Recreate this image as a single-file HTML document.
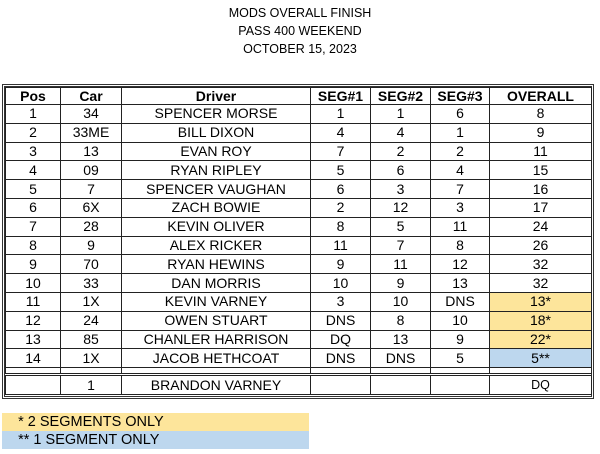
<!DOCTYPE html>
<html><head><style>
body{margin:0;width:600px;height:454px;background:#fff;font-family:"Liberation Sans",Arial,sans-serif;position:relative;overflow:hidden}
.t{position:absolute;left:0;width:600px;text-align:center;font-size:12.5px;color:#000}
.wrap{position:absolute;left:2px;top:84px;width:586px;height:309px;border:3px double #333}
table{border-collapse:collapse;table-layout:fixed;width:586px;font-size:14px}
td{border:1px solid #222;text-align:center;padding:0;height:17.8px;line-height:17px;overflow:hidden;white-space:nowrap}
th{border:1px solid #222;font-size:14px;height:16px;line-height:16px;padding:0}
.y{background:#fde59b}.b{background:#bdd7ee}
tr.sp td{height:5px;line-height:5px;border-bottom:3px double #222}
.lg{position:absolute;left:2px;width:307px;height:18px;font-size:14.5px;line-height:18px}
</style></head><body>
<div class="t" style="top:6px">MODS OVERALL FINISH</div>
<div class="t" style="top:24px">PASS 400 WEEKEND</div>
<div class="t" style="top:42px">OCTOBER 15, 2023</div>
<div class="wrap"><table>
<colgroup><col style="width:55px"><col style="width:61px"><col style="width:189px"><col style="width:60px"><col style="width:60px"><col style="width:59px"><col style="width:102px"></colgroup>
<tr><th>Pos</th><th>Car</th><th>Driver</th><th>SEG#1</th><th>SEG#2</th><th>SEG#3</th><th>OVERALL</th></tr>
<tr><td>1</td><td>34</td><td>SPENCER MORSE</td><td>1</td><td>1</td><td>6</td><td>8</td></tr>
<tr><td>2</td><td>33ME</td><td>BILL DIXON</td><td>4</td><td>4</td><td>1</td><td>9</td></tr>
<tr><td>3</td><td>13</td><td>EVAN ROY</td><td>7</td><td>2</td><td>2</td><td>11</td></tr>
<tr><td>4</td><td>09</td><td>RYAN RIPLEY</td><td>5</td><td>6</td><td>4</td><td>15</td></tr>
<tr><td>5</td><td>7</td><td>SPENCER VAUGHAN</td><td>6</td><td>3</td><td>7</td><td>16</td></tr>
<tr><td>6</td><td>6X</td><td>ZACH BOWIE</td><td>2</td><td>12</td><td>3</td><td>17</td></tr>
<tr><td>7</td><td>28</td><td>KEVIN OLIVER</td><td>8</td><td>5</td><td>11</td><td>24</td></tr>
<tr><td>8</td><td>9</td><td>ALEX RICKER</td><td>11</td><td>7</td><td>8</td><td>26</td></tr>
<tr><td>9</td><td>70</td><td>RYAN HEWINS</td><td>9</td><td>11</td><td>12</td><td>32</td></tr>
<tr><td>10</td><td>33</td><td>DAN MORRIS</td><td>10</td><td>9</td><td>13</td><td>32</td></tr>
<tr><td>11</td><td>1X</td><td>KEVIN VARNEY</td><td>3</td><td>10</td><td>DNS</td><td class="y">13*</td></tr>
<tr><td>12</td><td>24</td><td>OWEN STUART</td><td>DNS</td><td>8</td><td>10</td><td class="y">18*</td></tr>
<tr><td>13</td><td>85</td><td>CHANLER HARRISON</td><td>DQ</td><td>13</td><td>9</td><td class="y">22*</td></tr>
<tr><td>14</td><td>1X</td><td>JACOB HETHCOAT</td><td>DNS</td><td>DNS</td><td>5</td><td class="b">5**</td></tr>
<tr class="sp"><td></td><td></td><td></td><td></td><td></td><td></td><td></td></tr>
<tr><td style="height:18px"></td><td>1</td><td>BRANDON VARNEY</td><td></td><td></td><td></td><td style="font-size:12.5px">DQ</td></tr>
</table></div>
<div class="lg y" style="top:413px">&nbsp;&nbsp;&nbsp; * 2 SEGMENTS ONLY</div>
<div class="lg b" style="top:431px">&nbsp;&nbsp;&nbsp; ** 1 SEGMENT ONLY</div>
</body></html>
